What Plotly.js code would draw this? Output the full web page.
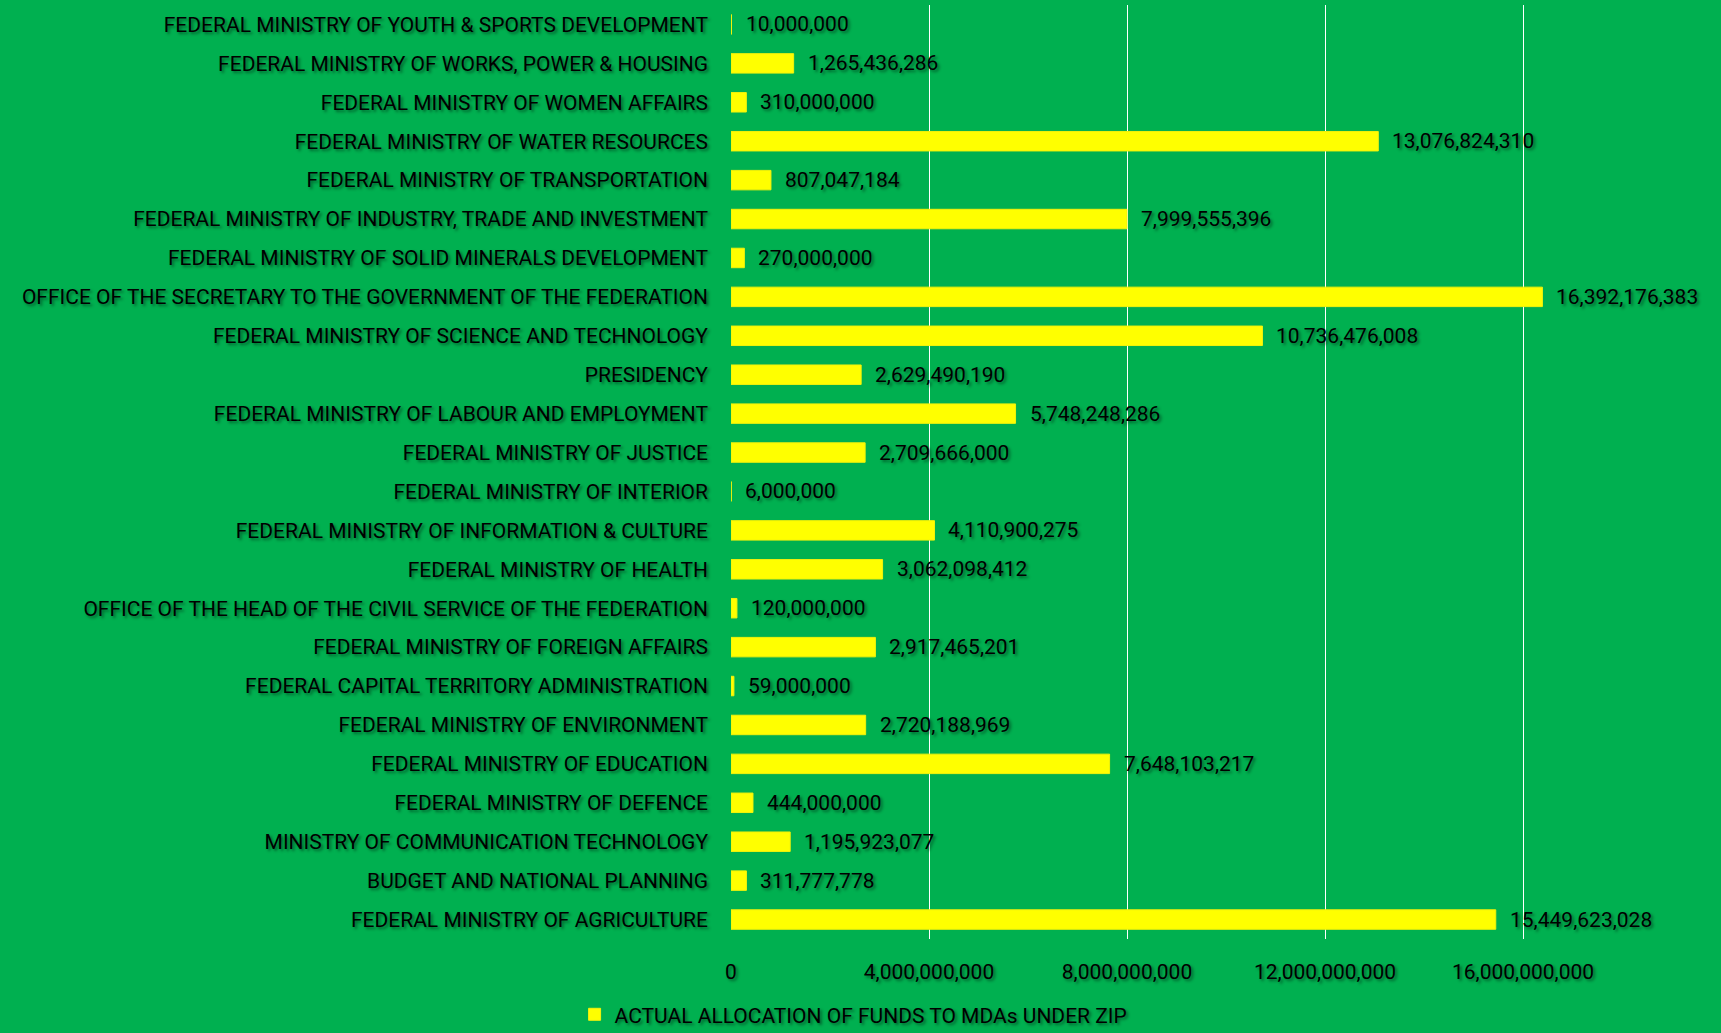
<!DOCTYPE html>
<html>
<head>
<meta charset="utf-8">
<script src="https://cdn.plot.ly/plotly-3.0.1.min.js"></script>
<style>
  html, body { margin: 0; padding: 0; background: #00b050; }
  #chart { width: 1721px; height: 1033px; }
</style>
</head>
<body>
<div id="chart"></div>
<script>
// categories listed bottom to top, as in the sheet
var ministries = [
  "FEDERAL MINISTRY OF AGRICULTURE",
  "BUDGET AND NATIONAL PLANNING",
  "MINISTRY OF COMMUNICATION TECHNOLOGY",
  "FEDERAL MINISTRY OF DEFENCE",
  "FEDERAL MINISTRY OF EDUCATION",
  "FEDERAL MINISTRY OF ENVIRONMENT",
  "FEDERAL CAPITAL TERRITORY ADMINISTRATION",
  "FEDERAL MINISTRY OF FOREIGN AFFAIRS",
  "OFFICE OF THE HEAD OF THE CIVIL SERVICE OF THE FEDERATION",
  "FEDERAL MINISTRY OF HEALTH",
  "FEDERAL MINISTRY OF INFORMATION & CULTURE",
  "FEDERAL MINISTRY OF INTERIOR",
  "FEDERAL MINISTRY OF JUSTICE",
  "FEDERAL MINISTRY OF LABOUR AND EMPLOYMENT",
  "PRESIDENCY",
  "FEDERAL MINISTRY OF SCIENCE AND TECHNOLOGY",
  "OFFICE OF THE SECRETARY TO THE GOVERNMENT OF THE FEDERATION",
  "FEDERAL MINISTRY OF SOLID MINERALS DEVELOPMENT",
  "FEDERAL MINISTRY OF INDUSTRY, TRADE AND INVESTMENT",
  "FEDERAL MINISTRY OF TRANSPORTATION",
  "FEDERAL MINISTRY OF WATER RESOURCES",
  "FEDERAL MINISTRY OF WOMEN AFFAIRS",
  "FEDERAL MINISTRY OF WORKS, POWER & HOUSING",
  "FEDERAL MINISTRY OF YOUTH & SPORTS DEVELOPMENT"
];

var allocation = [
  15449623028, 311777778, 1195923077, 444000000, 7648103217, 2720188969,
  59000000, 2917465201, 120000000, 3062098412, 4110900275, 6000000,
  2709666000, 5748248286, 2629490190, 10736476008, 16392176383, 270000000,
  7999555396, 807047184, 13076824310, 310000000, 1265436286, 10000000
];

var tick_values = [0, 4000000000, 8000000000, 12000000000, 16000000000];
var tick_labels = ["0", "4,000,000,000", "8,000,000,000", "12,000,000,000", "16,000,000,000"];

var series_name = "ACTUAL ALLOCATION OF FUNDS TO MDAs UNDER ZIP";

var fontFamily = 'Roboto, "Liberation Sans", sans-serif';
var shadow = "2px 2px 3px rgba(0,0,0,0.45)";
var textFont = { family: fontFamily, size: 21, color: "#000", shadow: shadow };

function fmt(v) {
  return v.toString().replace(/\B(?=(\d{3})+(?!\d))/g, ",");
}

var trace = {
  type: "bar",
  orientation: "h",
  name: series_name,
  y: ministries,
  x: allocation,
  width: 0.5,
  marker: { color: "#ffff00", line: { color: "#f2f20a", width: 1 } },
  hoverinfo: "none"
};

var labels = allocation.map(function (v, i) {
  return {
    x: v, y: ministries[i], xref: "x", yref: "y",
    text: fmt(v), showarrow: false,
    xanchor: "left", yanchor: "middle", xshift: 12,
    font: textFont
  };
});

var layout = {
  width: 1721,
  height: 1033,
  paper_bgcolor: "#00b050",
  plot_bgcolor: "#00b050",
  margin: { l: 731, r: 0, t: 5, b: 94, autoexpand: false },
  showlegend: true,
  legend: {
    orientation: "h",
    x: -0.158, xanchor: "left",
    y: -0.081, yanchor: "middle",
    font: textFont,
    itemwidth: 30
  },
  xaxis: {
    range: [0, 20000000000],
    tickvals: tick_values,
    ticktext: tick_labels,
    showgrid: true,
    gridcolor: "#ffffff",
    gridwidth: 1,
    zeroline: false,
    showline: false,
    ticks: "",
    ticklabelstandoff: 18,
    tickfont: textFont
  },
  yaxis: {
    type: "category",
    categoryorder: "array",
    categoryarray: ministries,
    showgrid: false,
    zeroline: false,
    showline: false,
    ticks: "",
    ticklabelstandoff: 22,
    tickfont: textFont
  },
  bargap: 0.5,
  annotations: labels
};

Plotly.newPlot("chart", [trace], layout, { staticPlot: true });
</script>
</body>
</html>
